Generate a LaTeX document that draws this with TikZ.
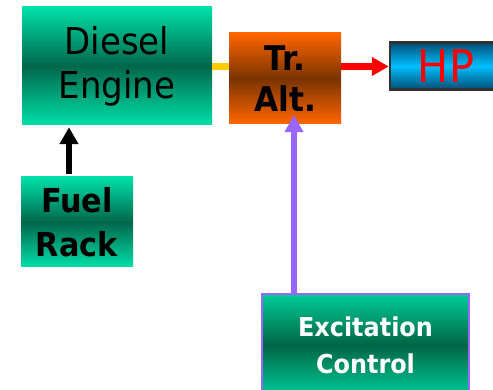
\documentclass[tikz,border=0pt]{standalone}
\usepackage{fontspec}
\setmainfont[FakeStretch=0.92]{DejaVu Sans}
\usetikzlibrary{arrows.meta,positioning}
\definecolor{mintlight}{HTML}{00E0A8}
\definecolor{mintdark}{HTML}{00674B}
\definecolor{jadelight}{HTML}{00CC99}
\definecolor{jadedark}{HTML}{006644}
\definecolor{rust}{HTML}{FF6600}
\definecolor{rustdark}{HTML}{7A3300}
\definecolor{skyblue}{HTML}{00BFFF}
\definecolor{skydark}{HTML}{004C73}
\definecolor{amber}{HTML}{FFCC00}
\definecolor{violet}{HTML}{9966FF}

\begin{document}
\begin{tikzpicture}[x=1pt, y=-1pt,
  block/.style={inner sep=0pt, align=center, text=black},
  greenbox/.style={block, top color=mintlight, bottom color=mintlight, middle color=mintdark},
  orangebox/.style={block, top color=rust, bottom color=rust, middle color=rustdark},
  bluebox/.style={block, draw=black!80, line width=2.5pt, top color=skydark, bottom color=skydark, middle color=skyblue},
  ctrlbox/.style={block, draw=violet, line width=2.5pt, top color=jadelight, bottom color=jadelight, middle color=jadedark, text=white},
  arr/.style={line width=6.5pt, -{Triangle[length=17pt, width=18pt]}}
]
\useasboundingbox (0,0) rectangle (493,390);
% main row
\node[greenbox, minimum width=190pt, minimum height=118pt, font=\fontsize{37}{44}\selectfont] (engine) at (117,66) {Diesel\\Engine};
\node[orangebox, minimum width=112pt, minimum height=91pt, font=\bfseries\fontsize{34}{41}\selectfont] (alt) at (285,78.5) {Tr.\\Alt.};
\node[bluebox, minimum width=112pt, minimum height=47pt, text=red, font=\fontsize{45}{46}\selectfont] (hp) at (446,66) {HP};
\draw[amber, line width=7pt] (engine.east |- 0,66.5) -- (alt.west |- 0,66.5);
\draw[arr, red] (alt.east |- 0,66.5) -- (hp.west |- 0,66.5);

% inputs
\node[greenbox, minimum width=112pt, minimum height=90pt, font=\bfseries\fontsize{33}{44}\selectfont] (rack) at (77,222) {Fuel\\Rack};
\node[ctrlbox, minimum width=207pt, minimum height=102pt, font=\bfseries\fontsize{26}{37}\selectfont] (excite) at (365.5,345) {Excitation\\Control};
\draw[arr, black, shorten <=3pt, shorten >=2pt] (rack.north -| 69,0) -- (engine.south -| 69,0);
\draw[arr, violet] (excite.north -| 294,0) -- ([yshift=9pt]alt.south -| 294,0);
\end{tikzpicture}
\end{document}
